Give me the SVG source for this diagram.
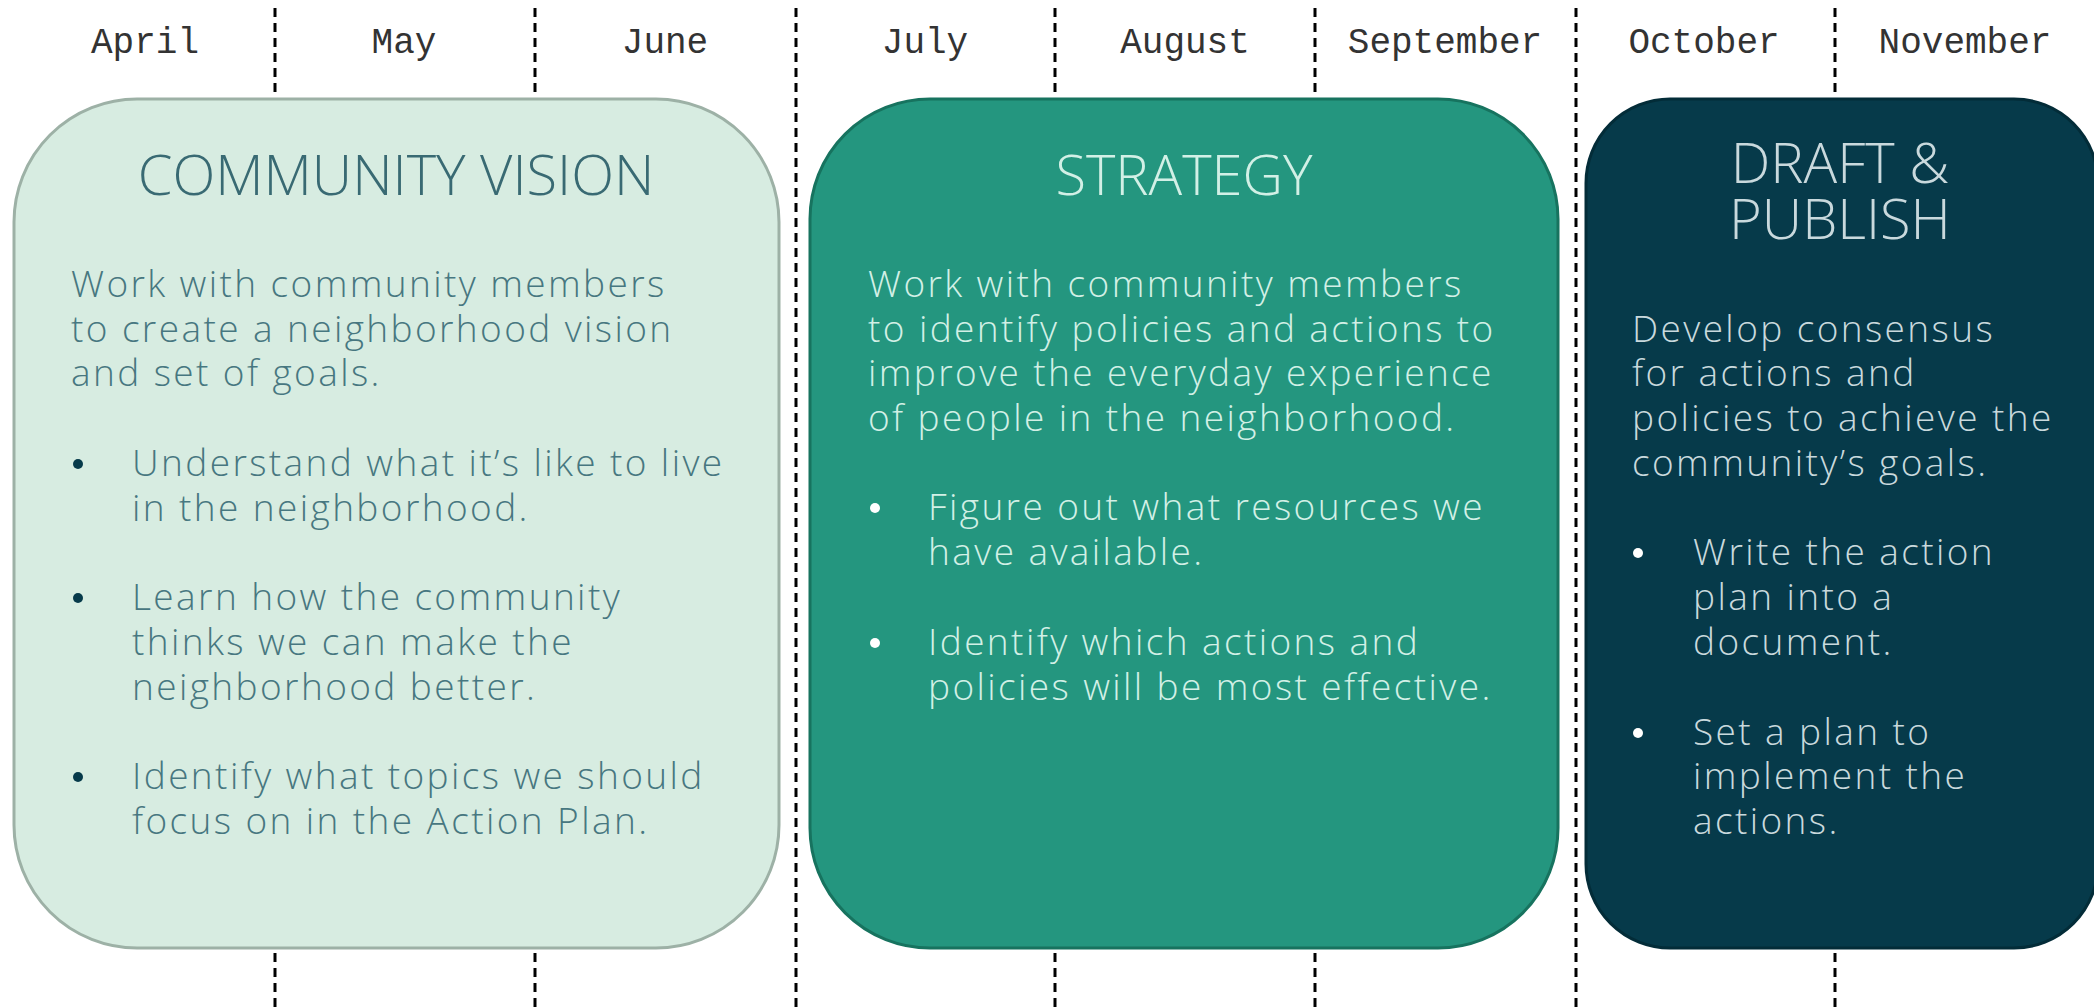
<svg xmlns="http://www.w3.org/2000/svg" width="2094" height="1007" viewBox="0 0 2094 1007">
<style>
.month{font-family:"Liberation Mono","DejaVu Sans Mono",monospace;font-size:36px;fill:#333;text-anchor:middle}
.grid{stroke:#000;stroke-width:3;stroke-dasharray:9 6;fill:none}
.title{font-family:"Open Sans","Lato",sans-serif;font-weight:300;font-size:56px;text-anchor:middle}
.body{font-family:"Open Sans","Lato",sans-serif;font-weight:300;font-size:37px;letter-spacing:2.4px}
.t1{fill:#396a73}
.b1{fill:#477780}
.t2{fill:#d2f0e6}
.t3{fill:#c9d9dd}
</style>
<rect width="2094" height="1007" fill="#ffffff"/>
<g id="connectors">
<line class="grid" x1="275" y1="8" x2="275" y2="1007"/>
<line class="grid" x1="535" y1="8" x2="535" y2="1007"/>
<line class="grid" x1="796" y1="8" x2="796" y2="1007"/>
<line class="grid" x1="1055" y1="8" x2="1055" y2="1007"/>
<line class="grid" x1="1315" y1="8" x2="1315" y2="1007"/>
<line class="grid" x1="1576" y1="8" x2="1576" y2="1007"/>
<line class="grid" x1="1835" y1="8" x2="1835" y2="1007"/>
</g>
<g id="months">
<text class="month" x="145" y="53">April</text>
<text class="month" x="404" y="53">May</text>
<text class="month" x="665" y="53">June</text>
<text class="month" x="925" y="53">July</text>
<text class="month" x="1185" y="53">August</text>
<text class="month" x="1445" y="53">September</text>
<text class="month" x="1704" y="53">October</text>
<text class="month" x="1965" y="53">November</text>
</g>
<g id="community-vision">
<rect x="14" y="99" width="765" height="849" rx="123" ry="123" fill="#d7ece1" stroke="#9db1a6" stroke-width="3"/>
<text class="title t1" x="396" y="195">COMMUNITY VISION</text>
<text class="body b1" x="71" y="297">Work with community members</text>
<text class="body b1" x="71" y="342">to create a neighborhood vision</text>
<text class="body b1" x="71" y="386">and set of goals.</text>
<circle cx="78" cy="464" r="5" fill="#063a4a"/>
<text class="body b1" x="132" y="476">Understand what it’s like to live</text>
<text class="body b1" x="132" y="521">in the neighborhood.</text>
<circle cx="78" cy="598" r="5" fill="#063a4a"/>
<text class="body b1" x="132" y="610">Learn how the community</text>
<text class="body b1" x="132" y="655">thinks we can make the</text>
<text class="body b1" x="132" y="700">neighborhood better.</text>
<circle cx="78" cy="777" r="5" fill="#063a4a"/>
<text class="body b1" x="132" y="789">Identify what topics we should</text>
<text class="body b1" x="132" y="834">focus on in the Action Plan.</text>
</g>
<g id="strategy">
<rect x="810" y="99" width="748" height="849" rx="120" ry="120" fill="#24967f" stroke="#17735f" stroke-width="3"/>
<text class="title t2" x="1184" y="195">STRATEGY</text>
<text class="body t2" x="868" y="297">Work with community members</text>
<text class="body t2" x="868" y="342">to identify policies and actions to</text>
<text class="body t2" x="868" y="386">improve the everyday experience</text>
<text class="body t2" x="868" y="431">of people in the neighborhood.</text>
<circle cx="875" cy="508" r="5" fill="#ffffff"/>
<text class="body t2" x="928" y="520">Figure out what resources we</text>
<text class="body t2" x="928" y="565">have available.</text>
<circle cx="875" cy="643" r="5" fill="#ffffff"/>
<text class="body t2" x="928" y="655">Identify which actions and</text>
<text class="body t2" x="928" y="700">policies will be most effective.</text>
</g>
<g id="draft-publish">
<rect x="1586" y="99" width="512" height="849" rx="84" ry="84" fill="#063a4a" stroke="#032c38" stroke-width="3"/>
<text class="title t3" x="1840" y="183">DRAFT &amp;</text>
<text class="title t3" x="1840" y="239">PUBLISH</text>
<text class="body t3" x="1632" y="342">Develop consensus</text>
<text class="body t3" x="1632" y="386">for actions and</text>
<text class="body t3" x="1632" y="431">policies to achieve the</text>
<text class="body t3" x="1632" y="476">community’s goals.</text>
<circle cx="1638" cy="553" r="5" fill="#ffffff"/>
<text class="body t3" x="1693" y="565">Write the action</text>
<text class="body t3" x="1693" y="610">plan into a</text>
<text class="body t3" x="1693" y="655">document.</text>
<circle cx="1638" cy="733" r="5" fill="#ffffff"/>
<text class="body t3" x="1693" y="745">Set a plan to</text>
<text class="body t3" x="1693" y="789">implement the</text>
<text class="body t3" x="1693" y="834">actions.</text>
</g>
</svg>
